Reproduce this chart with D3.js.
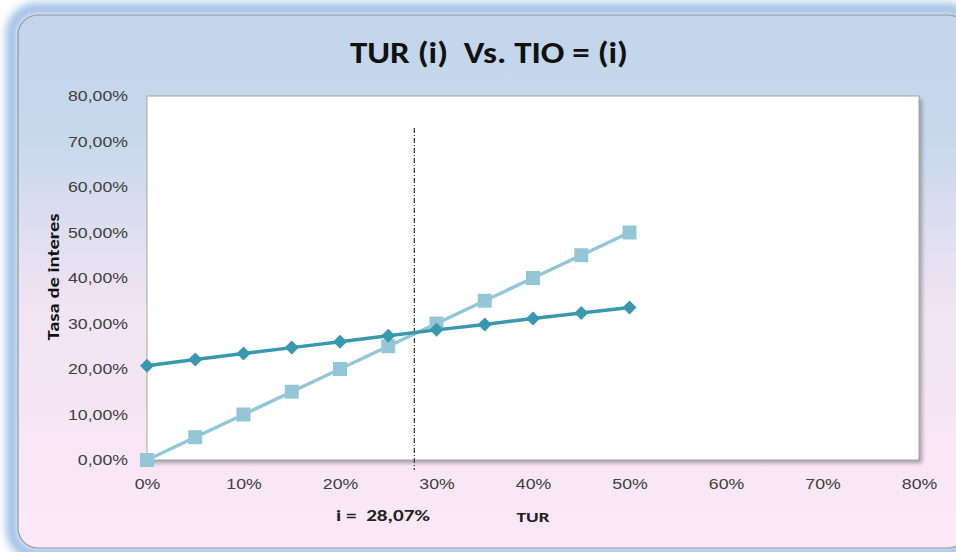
<!DOCTYPE html>
<html><head><meta charset="utf-8">
<script src="https://cdn.jsdelivr.net/npm/d3@7/dist/d3.min.js"></script>
<style>body{margin:0;background:#fff;}svg{display:block;font-family:Calibri,Carlito,"Open Sans","Liberation Sans",sans-serif;}text{white-space:pre;}</style>
</head><body>
<script>
const tur = [0, 0.05, 0.10, 0.15, 0.20, 0.25, 0.30, 0.35, 0.40, 0.45, 0.50];
const tio = [0.207, 0.221, 0.234, 0.247, 0.260, 0.273, 0.286, 0.298, 0.311, 0.323, 0.335];
const turLine = [0, 0.05, 0.10, 0.15, 0.20, 0.25, 0.30, 0.35, 0.40, 0.45, 0.50];
const xTicks = [0, 0.1, 0.2, 0.3, 0.4, 0.5, 0.6, 0.7, 0.8];
const yTicks = [0, 0.1, 0.2, 0.3, 0.4, 0.5, 0.6, 0.7, 0.8];
const iValue = 0.2807;   // label value
const iMark = 0.277;     // position of the dash-dot line as drawn
const title = "TUR (i)  Vs. TIO = (i)";

const W = 956, H = 552;
const svg = d3.select("body").append("svg").attr("width", W).attr("height", H);
const defs = svg.append("defs");
const g1 = defs.append("linearGradient").attr("id","bg").attr("x1",0).attr("y1",0).attr("x2",0).attr("y2",1);
g1.append("stop").attr("offset","0%").attr("stop-color","#c3d5ea");
g1.append("stop").attr("offset","22%").attr("stop-color","#c6d8ec");
g1.append("stop").attr("offset","55%").attr("stop-color","#f1e4f3");
g1.append("stop").attr("offset","100%").attr("stop-color","#fde8f6");
const f1 = defs.append("filter").attr("id","glow").attr("x","-5%").attr("y","-5%").attr("width","110%").attr("height","110%");
f1.append("feGaussianBlur").attr("stdDeviation",5);
const f2 = defs.append("filter").attr("id","sh").attr("x","-5%").attr("y","-5%").attr("width","110%").attr("height","110%");
f2.append("feGaussianBlur").attr("stdDeviation",2);

svg.append("rect").attr("x",12).attr("y",9).attr("width",960).attr("height",545).attr("rx",24)
  .attr("fill","none").attr("stroke","#8db2e0").attr("stroke-width",10).attr("filter","url(#glow)");
svg.append("rect").attr("x",18).attr("y",15).attr("width",950).attr("height",533).attr("rx",20)
  .attr("fill","url(#bg)").attr("stroke","#8f98a4").attr("stroke-width",1.2);

const m = {l:147, t:96, r:919, b:460};
const x = d3.scaleLinear().domain([0,0.8]).range([m.l, m.r]);
const y = d3.scaleLinear().domain([0,0.8]).range([m.b, m.t]);

svg.append("rect").attr("x",m.l+3).attr("y",m.t+3).attr("width",m.r-m.l).attr("height",m.b-m.t)
  .attr("fill","#7f7f7f").attr("opacity",0.7).attr("filter","url(#sh)");
svg.append("rect").attr("x",m.l).attr("y",m.t).attr("width",m.r-m.l).attr("height",m.b-m.t)
  .attr("fill","#fff").attr("stroke","#a6a6a6").attr("stroke-width",1);

function stretch(sel, f){
  sel.each(function(){
    const n = this; const L = n.getComputedTextLength();
    n.setAttribute("textLength", (L*f).toFixed(1));
    n.setAttribute("lengthAdjust","spacingAndGlyphs");
  });
}

const t = svg.append("text").attr("x",489).attr("y",63).attr("text-anchor","middle")
  .attr("font-size",30).attr("font-weight","bold").attr("fill","#111").text(title);
t.attr("textLength",278).attr("lengthAdjust","spacingAndGlyphs");

const fmtY = d => (d*100).toFixed(2).replace(".", ",") + "%";
const fmtX = d => Math.round(d*100) + "%";

const yAxis = svg.append("g").attr("transform",`translate(${m.l},0)`)
  .call(d3.axisLeft(y).tickValues(yTicks).tickFormat(fmtY).tickSize(0).tickPadding(19));
yAxis.select(".domain").remove();
yAxis.selectAll("text").attr("font-size",14.5).attr("fill","#404040").attr("font-family","inherit");
stretch(yAxis.selectAll("text"), 1.22);

const xAxis = svg.append("g").attr("transform",`translate(0,${m.b})`)
  .call(d3.axisBottom(x).tickValues(xTicks).tickFormat(fmtX).tickSize(0).tickPadding(19));
xAxis.select(".domain").remove();
xAxis.selectAll("text").attr("font-size",14.5).attr("fill","#404040").attr("font-family","inherit");
stretch(xAxis.selectAll("text"), 1.22);

svg.append("text").attr("transform",`translate(59,277) rotate(-90)`).attr("text-anchor","middle")
  .attr("font-size",15.5).attr("font-weight","bold").attr("fill","#111")
  .attr("textLength",127).attr("lengthAdjust","spacingAndGlyphs").text("Tasa de interes");
svg.append("text").attr("x",383).attr("y",521).attr("text-anchor","middle")
  .attr("font-size",15.5).attr("font-weight","bold").attr("fill","#222")
  .attr("textLength",94).attr("lengthAdjust","spacingAndGlyphs")
  .text("i =  " + (iValue*100).toFixed(2).replace(".", ",") + "%");
svg.append("text").attr("x",x(0.4)).attr("y",522).attr("text-anchor","middle")
  .attr("font-size",14.5).attr("font-weight","bold").attr("fill","#222")
  .attr("textLength",33).attr("lengthAdjust","spacingAndGlyphs").text("TUR");

svg.append("line").attr("x1",x(iMark)).attr("x2",x(iMark)).attr("y1",128).attr("y2",m.b+10)
  .attr("stroke","#333").attr("stroke-width",1.2).attr("stroke-dasharray","5,2,1,2");

const line = d3.line().x(d=>x(d[0])).y(d=>y(d[1]));
const d1 = tur.map((v,i)=>[v, turLine[i]]);
const d2 = tur.map((v,i)=>[v, tio[i]]);

svg.append("path").datum(d1).attr("d",line).attr("fill","none").attr("stroke","#93c6d7").attr("stroke-width",3.5);
svg.selectAll(".sq").data(d1).enter().append("rect")
  .attr("x",d=>x(d[0])-7).attr("y",d=>y(d[1])-7).attr("width",14).attr("height",14).attr("fill","#93c6d7");

svg.append("path").datum(d2).attr("d",line).attr("fill","none").attr("stroke","#3a98ae").attr("stroke-width",3.5);
svg.selectAll(".dm").data(d2).enter().append("path")
  .attr("d","M0,-7L7,0L0,7L-7,0Z").attr("transform",d=>`translate(${x(d[0])},${y(d[1])})`).attr("fill","#3a98ae");
</script>
</body></html>
